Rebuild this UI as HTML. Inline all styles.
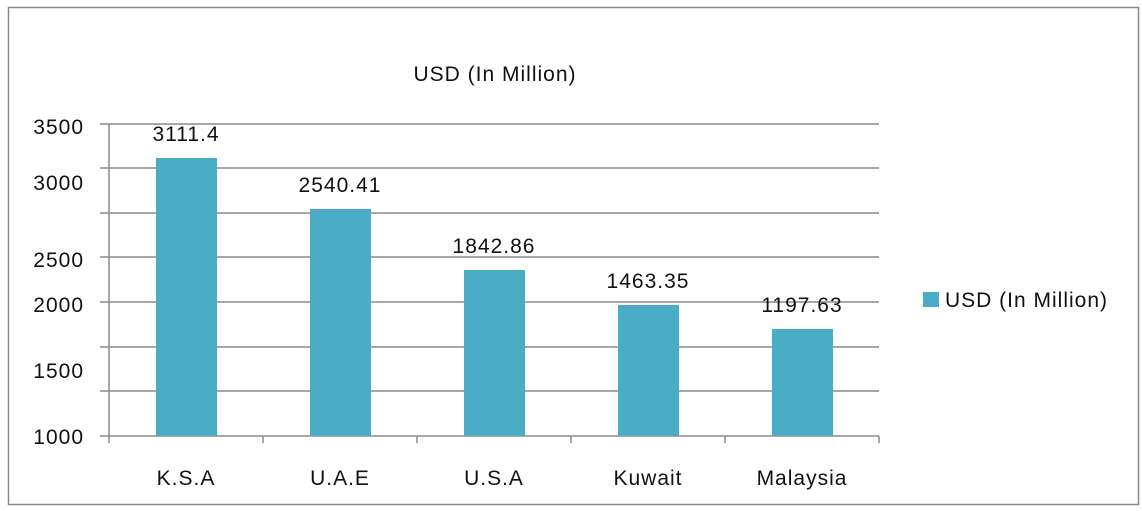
<!DOCTYPE html>
<html><head><meta charset="utf-8"><style>
body{margin:0;background:#fff;}
svg text{font-family:"Liberation Sans",sans-serif;fill:#111;letter-spacing:1px;}
</style></head><body>
<svg width="1142" height="506" xmlns="http://www.w3.org/2000/svg">
<rect x="8.5" y="7.5" width="1130" height="497" fill="#fff" stroke="#888" stroke-width="1.5"/>
<text x="495" y="81" font-size="21" text-anchor="middle">USD (In Million)</text>
<g stroke="#8a8a8a" stroke-width="1.5">
<line x1="100" y1="124" x2="879" y2="124"/>
<line x1="100" y1="168" x2="879" y2="168"/>
<line x1="100" y1="213" x2="879" y2="213"/>
<line x1="100" y1="257" x2="879" y2="257"/>
<line x1="100" y1="302" x2="879" y2="302"/>
<line x1="100" y1="347" x2="879" y2="347"/>
<line x1="100" y1="391" x2="879" y2="391"/>
<line x1="100" y1="436" x2="879" y2="436"/>
<line x1="109" y1="124" x2="109" y2="443"/>
<line x1="263" y1="436" x2="263" y2="443"/>
<line x1="417" y1="436" x2="417" y2="443"/>
<line x1="571" y1="436" x2="571" y2="443"/>
<line x1="725" y1="436" x2="725" y2="443"/>
<line x1="879" y1="436" x2="879" y2="443"/>
</g>
<g fill="#4bacc6">
<rect x="156" y="158" width="61" height="278"/>
<rect x="310" y="209" width="61" height="227"/>
<rect x="464" y="270" width="61" height="166"/>
<rect x="618" y="305" width="61" height="131"/>
<rect x="772" y="329" width="61" height="107"/>
</g>
<g font-size="21" text-anchor="end">
<text x="84" y="134">3500</text>
<text x="84" y="190">3000</text>
<text x="84" y="267">2500</text>
<text x="84" y="312">2000</text>
<text x="84" y="378">1500</text>
<text x="84" y="444">1000</text>
</g>
<g font-size="21" text-anchor="middle">
<text x="186" y="141">3111.4</text>
<text x="340" y="192">2540.41</text>
<text x="494" y="253">1842.86</text>
<text x="648" y="288">1463.35</text>
<text x="802" y="312">1197.63</text>
<text x="186" y="485">K.S.A</text>
<text x="340" y="485">U.A.E</text>
<text x="494" y="485">U.S.A</text>
<text x="648" y="485">Kuwait</text>
<text x="802" y="485">Malaysia</text>
</g>
<rect x="923" y="292" width="16" height="15" fill="#4bacc6"/>
<text x="945" y="307" font-size="21">USD (In Million)</text>
</svg>
</body></html>
